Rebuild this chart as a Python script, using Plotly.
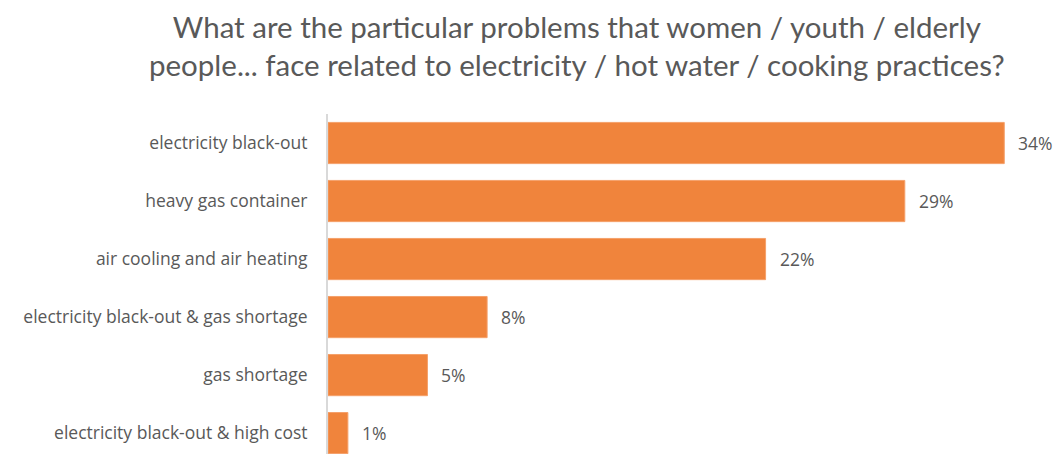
import plotly.graph_objects as go

categories = [
    "electricity black-out",
    "heavy gas container",
    "air cooling and air heating",
    "electricity black-out & gas shortage",
    "gas shortage",
    "electricity black-out & high cost",
]
values = [34, 29, 22, 8, 5, 1]
value_labels = ["34%", "29%", "22%", "8%", "5%", "1%"]

title_text = ("What are the particular problems that women / youth / elderly<br>"
              "people... face related to electricity / hot water / cooking practices?")

text_color = "#595959"
bar_color = "#F0843C"
label_font = "Open Sans"

fig = go.Figure(
    go.Bar(
        x=values,
        y=categories,
        orientation="h",
        marker=dict(color=bar_color, line=dict(color="#F5A06A", width=1)),
        width=0.71,
        hoverinfo="x+y",
    )
)

# value labels to the right of each bar
for cat, val, lab in zip(categories, values, value_labels):
    fig.add_annotation(
        x=val, y=cat, xref="x", yref="y",
        text=lab, showarrow=False,
        xanchor="left", yanchor="middle", xshift=12,
        font=dict(family=label_font, size=17.5, color=text_color),
    )

# two-line chart heading, centred at x = 577 px of the figure
fig.add_annotation(
    x=(577 - 328) / (1056 - 328 - 4), xref="paper", y=1.315, yref="paper",
    text=title_text, showarrow=False,
    xanchor="center", yanchor="top", align="center",
    font=dict(family="Lato", size=29.5, color=text_color),
)

fig.update_layout(
    width=1056,
    height=454,
    margin=dict(l=328, r=4, t=114, b=0),
    paper_bgcolor="white",
    plot_bgcolor="white",
    showlegend=False,
    font=dict(family=label_font, color=text_color),
    xaxis=dict(
        range=[0, 36.4],
        showgrid=False,
        zeroline=False,
        showticklabels=False,
        showline=False,
    ),
    yaxis=dict(
        type="category",
        categoryorder="array",
        categoryarray=categories,
        range=[5.36, -0.5],
        showgrid=False,
        zeroline=False,
        showline=True,
        linecolor="#D9D9D9",
        linewidth=2,
        ticks="",
        ticklabelstandoff=15,
        tickfont=dict(family=label_font, size=17.5, color=text_color),
    ),
)

fig.write_html("out.html")
